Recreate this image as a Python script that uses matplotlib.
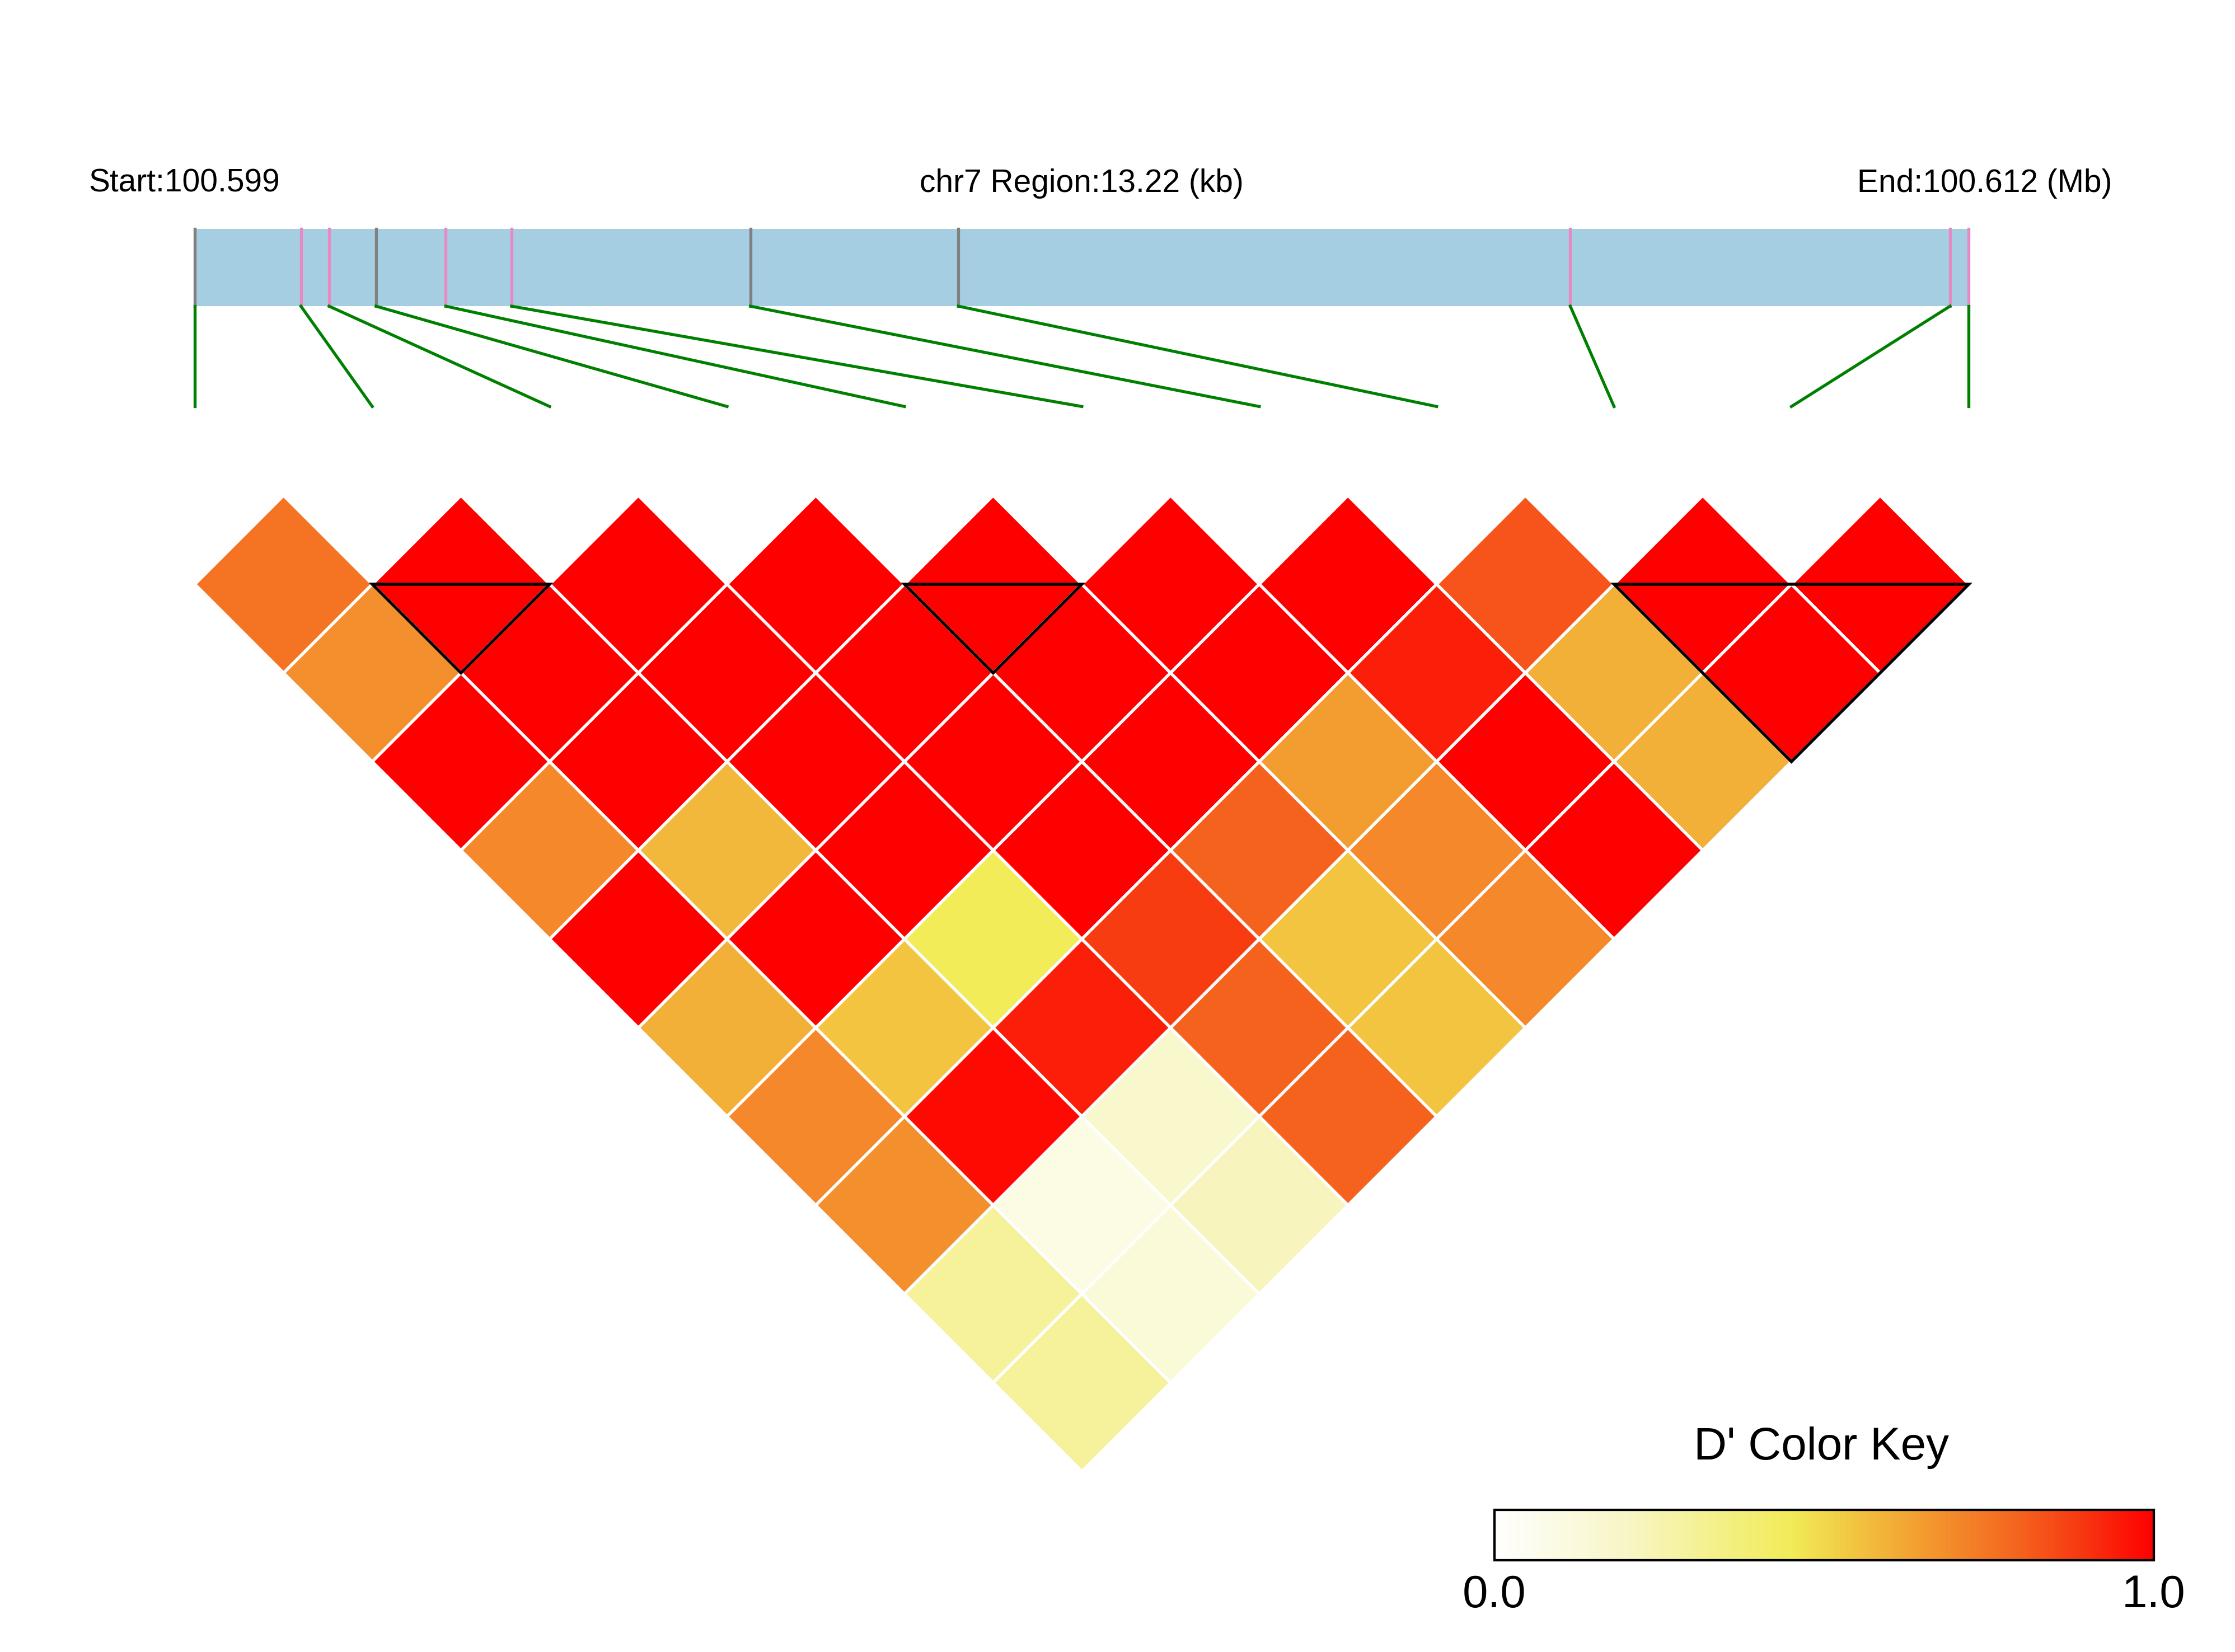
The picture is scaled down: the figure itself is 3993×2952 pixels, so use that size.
import matplotlib
matplotlib.use("Agg")
import matplotlib.pyplot as plt
import numpy as np
from matplotlib.colors import LinearSegmentedColormap
from matplotlib.patches import Polygon, Rectangle

plt.rcParams['font.family'] = ['Liberation Sans', 'DejaVu Sans']

# SNP physical offsets (kb from start) and tick colours
snp_kb = [0.0, 0.79, 1.00, 1.35, 1.87, 2.36, 4.14, 5.69, 10.25, 13.08, 13.22]
snp_tick = ['gray', 'pink', 'pink', 'gray', 'pink', 'pink', 'gray', 'gray', 'pink', 'pink', 'pink']
region_kb = 13.22
start_mb = "100.599"
end_mb = "100.612"
chrom = "chr7"

# D' values by diagonal (distance j-i = 1..10), left to right
dprime = [
    [0.75, 1.0, 1.0, 1.0, 1.0, 1.0, 1.0, 0.83, 1.0, 1.0],
    [0.68, 1.0, 1.0, 1.0, 1.0, 1.0, 0.94, 0.6, 1.0],
    [1.0, 1.0, 1.0, 1.0, 1.0, 0.65, 1.0, 0.6],
    [0.7, 0.58, 1.0, 1.0, 0.8, 0.7, 1.0],
    [1.0, 1.0, 0.45, 0.88, 0.55, 0.7],
    [0.6, 0.55, 0.94, 0.8, 0.55],
    [0.7, 0.98, 0.18, 0.8],
    [0.68, 0.1, 0.22],
    [0.3, 0.14],
    [0.3],
]
blocks = [(1, 2), (4, 5), (8, 10)]

cmap = LinearSegmentedColormap.from_list('ld', [
    (0.0, '#FFFFFF'), (0.2, '#F8F6C6'), (0.45, '#F1EC58'), (0.55, '#F2C440'),
    (0.65, '#F39C30'), (0.8, '#F5621E'), (0.9, '#F83410'), (1.0, '#FF0000')])

fig = plt.figure(figsize=(15.6, 11.535), dpi=256)
ax = fig.add_axes([0, 0, 1, 1])
ax.set_xlim(0, 1560)
ax.set_ylim(1153, 0)
ax.axis('off')

n = len(snp_kb)
x0, x1 = 136, 1374
s = (x1 - x0) / (n - 1)
h = s / 2
ytop = 408

# gene bar
ax.add_patch(Rectangle((x0, 160), x1 - x0, 54, color='#A6CEE3', lw=0, zorder=1))
colmap = {'gray': '#808080', 'pink': '#E78AC3'}
for k, kb in enumerate(snp_kb):
    px = x0 + kb / region_kb * (x1 - x0)
    ax.plot([px, px], [160, 214], color=colmap[snp_tick[k]], lw=1.5, zorder=2)
    ax.plot([px, x0 + k * s], [214, 284], color='green', lw=1.5, zorder=2)

ax.text(62, 128, "Start:" + start_mb, fontsize=16, ha='left', va='center')
ax.text(755, 128, f"{chrom} Region:{region_kb} (kb)", fontsize=16, ha='center', va='center')
ax.text(1474, 128, "End:" + end_mb + " (Mb)", fontsize=16, ha='right', va='center')

# LD diamonds
for d, row in enumerate(dprime, start=1):
    for i, v in enumerate(row):
        j = i + d
        cx = x0 + (i + j) / 2 * s
        cy = ytop + (d - 1) * h
        poly = Polygon([(cx, cy - h), (cx + h, cy), (cx, cy + h), (cx - h, cy)],
                       closed=True, facecolor=cmap(float(v)), edgecolor='white', lw=1.5, zorder=3)
        ax.add_patch(poly)

for a, b in blocks:
    xa = x0 + a * s
    xb = x0 + b * s
    ax.add_patch(Polygon([(xa, ytop), (xb, ytop), ((xa + xb) / 2, ytop + (xb - xa) / 2)],
                         closed=True, fill=False, edgecolor='black', lw=1.5, zorder=4))

# colour key
grad = np.linspace(0, 1, 256).reshape(1, -1)
ax.imshow(grad, cmap=cmap, aspect='auto', extent=(1043, 1503, 1089, 1054), zorder=3)
ax.add_patch(Rectangle((1043, 1054), 460, 35, fill=False, edgecolor='black', lw=1.2, zorder=4))
ax.text(1271, 1010, "D' Color Key", fontsize=23, ha='center', va='center')
ax.text(1043, 1113, "0.0", fontsize=23, ha='center', va='center')
ax.text(1503, 1113, "1.0", fontsize=23, ha='center', va='center')

fig.savefig("out.png", dpi=256)
